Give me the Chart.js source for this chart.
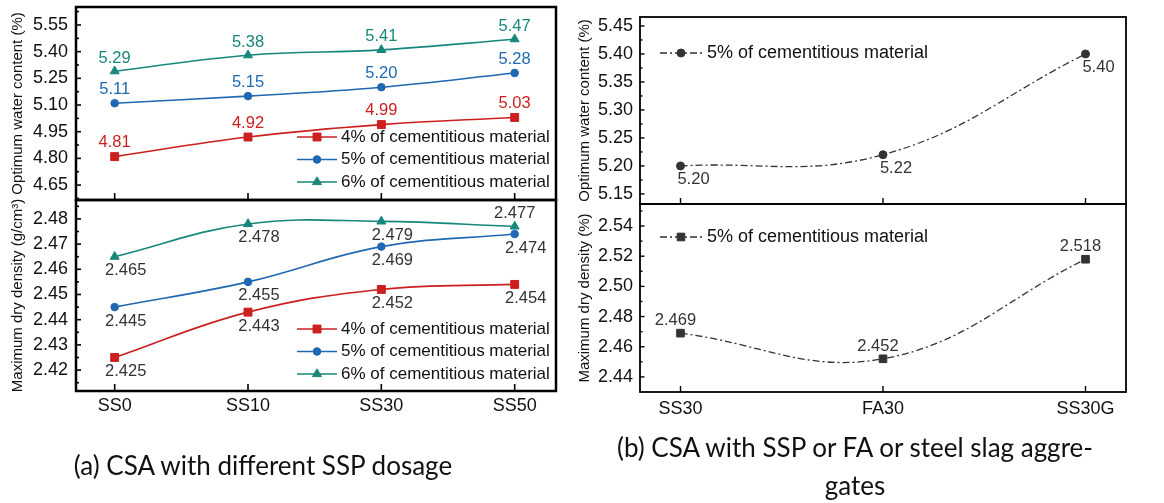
<!DOCTYPE html>
<html>
<head>
<meta charset="utf-8">
<script src="https://cdn.jsdelivr.net/npm/chart.js@4.4.1/dist/chart.umd.min.js"></script>
<style>
  html, body { margin: 0; padding: 0; background: #fff; }
  #wrap { position: relative; width: 1164px; height: 503px; overflow: hidden; background: #fff; }
  canvas.panel { position: absolute; left: 0; top: 0; }
  .cap { position: absolute; font-family: Lato, 'Open Sans', sans-serif; font-size: 26px; color: #111;
         text-align: center; white-space: nowrap; line-height: 38px; }
</style>
</head>
<body>
<div id="wrap">
  <canvas id="tl" class="panel" width="1164" height="503"></canvas>
  <canvas id="bl" class="panel" width="1164" height="503"></canvas>
  <canvas id="tr" class="panel" width="1164" height="503"></canvas>
  <canvas id="br" class="panel" width="1164" height="503"></canvas>
  <div class="cap" style="left:0;width:526px;top:446px;">(a) CSA with different SSP dosage</div>
  <div class="cap" style="left:580px;width:550px;top:428px;">(b) CSA with SSP or FA or steel slag aggre-<br>gates</div>
</div>
<script>
// ---- data ----
const dosageGroups   = ['SS0', 'SS10', 'SS30', 'SS50'];
const waterContent4  = [4.81, 4.92, 4.99, 5.03];
const waterContent5  = [5.11, 5.15, 5.20, 5.28];
const waterContent6  = [5.29, 5.38, 5.41, 5.47];
const dryDensity4    = [2.425, 2.443, 2.452, 2.454];
const dryDensity5    = [2.445, 2.455, 2.469, 2.474];
const dryDensity6    = [2.465, 2.478, 2.479, 2.477];

const binderGroups   = ['SS30', 'FA30', 'SS30G'];
const waterContentB  = [5.20, 5.22, 5.40];
const dryDensityB    = [2.469, 2.452, 2.518];

const waterTicksA    = [4.65, 4.80, 4.95, 5.10, 5.25, 5.40, 5.55];
const densityTicksA  = [2.42, 2.43, 2.44, 2.45, 2.46, 2.47, 2.48];
const waterTicksB    = [5.15, 5.20, 5.25, 5.30, 5.35, 5.40, 5.45];
const densityTicksB  = [2.44, 2.46, 2.48, 2.50, 2.52, 2.54];

const seriesNames    = ['4% of cementitious material', '5% of cementitious material', '6% of cementitious material'];
const seriesNameB    = '5% of cementitious material';

// ---- styling ----
const W = 1164, H = 503;
const FONT = "'Liberation Sans', Arial, Helvetica, sans-serif";
Chart.defaults.font.family = FONT;
Chart.defaults.color = '#111';

const RED = '#cc1f1f', BLUE = '#1f68b2', TEAL = '#17877c', GREY = '#333333';

const toPoints = arr => arr.map((v, i) => ({ x: i, y: v }));

function line(ctx, x1, y1, x2, y2) {
  ctx.beginPath(); ctx.moveTo(x1, y1); ctx.lineTo(x2, y2); ctx.stroke();
}

// frame, inward ticks, value labels and an in-plot legend
const panelDecor = {
  id: 'panelDecor',
  afterDatasetsDraw(chart, args, o) {
    const ctx = chart.ctx;
    ctx.save();
    ctx.font = o.labelSize + 'px ' + FONT;
    ctx.textAlign = 'center';
    ctx.textBaseline = 'middle';
    chart.data.datasets.forEach((ds, i) => {
      const meta = chart.getDatasetMeta(i);
      const lab = ds.valueLabel;
      meta.data.forEach((pt, j) => {
        const off = (lab.at && lab.at[j]) || [lab.dx, lab.dy];
        ctx.fillStyle = lab.color;
        ctx.fillText(ds.data[j].y.toFixed(o.decimals), pt.x + off[0], pt.y + off[1]);
      });
    });
    ctx.restore();
  },
  afterDraw(chart, args, o) {
    const ctx = chart.ctx;
    const ca = chart.chartArea;
    const ys = chart.scales.y, xs = chart.scales.x;
    ctx.save();
    ctx.strokeStyle = '#000';
    ctx.lineCap = 'butt';
    // ticks on the y axis (major + minor, pointing inward)
    ctx.lineWidth = o.tickWidth;
    const tv = ys.ticks.map(t => t.value);
    const step = tv[1] - tv[0];
    tv.forEach(v => {
      const y = ys.getPixelForValue(v);
      line(ctx, ca.left, y, ca.left + o.majorLen, y);
    });
    for (let k = -1; k < tv.length; k++) {
      const v = tv[0] + step * (k + 0.5);
      if (v < ys.min || v > ys.max) continue;
      const y = ys.getPixelForValue(v);
      line(ctx, ca.left, y, ca.left + o.minorLen, y);
    }
    // ticks on the x axis
    xs.ticks.forEach(t => {
      const x = xs.getPixelForValue(t.value);
      line(ctx, x, ca.bottom, x, ca.bottom - o.xTickLen);
    });
    // frame
    ctx.lineWidth = o.frameWidth;
    ctx.strokeRect(ca.left, ca.top, ca.right - ca.left, ca.bottom - ca.top);

    // legend
    const L = o.legend;
    ctx.font = L.size + 'px ' + FONT;
    ctx.textAlign = 'left';
    ctx.textBaseline = 'middle';
    chart.data.datasets.forEach((ds, i) => {
      const y = L.y + i * L.gap;
      ctx.strokeStyle = ds.borderColor;
      ctx.lineWidth = ds.borderWidth;
      ctx.setLineDash(ds.borderDash || []);
      line(ctx, L.x, y, L.x + L.len, y);
      ctx.setLineDash([]);
      ctx.fillStyle = ds.pointBackgroundColor;
      ctx.strokeStyle = ds.pointBorderColor;
      ctx.lineWidth = 1;
      Chart.helpers.drawPoint(ctx, { pointStyle: ds.pointStyle, radius: ds.pointRadius, rotation: 0, borderWidth: 1 }, L.x + L.len / 2, y);
      ctx.fillStyle = L.color;
      ctx.fillText(ds.label, L.x + L.len + L.textGap, y);
    });
    ctx.restore();
  }
};

function series(label, values, color, style, radius, extra) {
  return Object.assign({
    label, data: toPoints(values),
    borderColor: color, borderWidth: 1.6,
    pointStyle: style, pointRadius: radius,
    pointBackgroundColor: color, pointBorderColor: color, pointBorderWidth: 1,
    tension: 0.4, fill: false
  }, extra || {});
}

function panel(id, p) {
  const a = p.area;
  return new Chart(document.getElementById(id), {
    type: 'line',
    data: { datasets: p.datasets },
    options: {
      responsive: false, animation: false, events: [],
      layout: { padding: { left: a.left - p.yWidth, top: a.top, right: W - a.right, bottom: H - a.bottom - p.xHeight } },
      scales: {
        x: {
          type: 'linear', min: p.xMin, max: p.xMax,
          grid: { display: false, drawTicks: false }, border: { display: false },
          ticks: { display: p.showX, font: { size: 18 }, color: '#111', padding: p.xPad,
                   maxRotation: 0, autoSkip: false, callback: v => p.categories[v] ?? '' },
          afterBuildTicks: s => { s.ticks = p.categories.map((c, i) => ({ value: i })); },
          afterFit: s => { s.height = p.xHeight; s.paddingLeft = 0; s.paddingRight = 0; }
        },
        y: {
          type: 'linear', min: p.yMin, max: p.yMax,
          grid: { display: false, drawTicks: false }, border: { display: false },
          ticks: { font: { size: 18 }, color: '#111', padding: p.yPad, callback: v => v.toFixed(p.tickDec) },
          afterBuildTicks: s => { s.ticks = p.yTicks.map(v => ({ value: v })); },
          title: { display: true, text: p.title, color: '#111', font: { size: 15 }, padding: { top: p.titlePad, bottom: 0 } },
          afterFit: s => { s.width = p.yWidth; s.paddingTop = 0; s.paddingBottom = 0; }
        }
      },
      plugins: {
        legend: { display: false }, tooltip: { enabled: false },
        panelDecor: p.decor
      }
    },
    plugins: [panelDecor]
  });
}

const decorA = (legendY) => ({
  frameWidth: 2.5, tickWidth: 1.6, majorLen: 5, minorLen: 3, xTickLen: 7,
  labelSize: 16.5,
  legend: { x: 297, y: legendY, gap: 22.5, len: 40, textGap: 4, size: 17, color: '#111' }
});
const decorB = (legendY, dec) => ({
  frameWidth: 1.8, tickWidth: 1.4, majorLen: 4.5, minorLen: 2.5, xTickLen: 6,
  labelSize: 16.5, decimals: dec,
  legend: { x: 660, y: legendY, gap: 22, len: 42, textGap: 5, size: 18, color: '#111' }
});

// (a) top: optimum water content
panel('tl', {
  area: { left: 76, top: 7, right: 556, bottom: 200 }, yWidth: 76, xHeight: 0,
  xMin: -0.29, xMax: 3.31, categories: dosageGroups, showX: false, xPad: 4,
  yMin: 4.566, yMax: 5.651, yTicks: waterTicksA, tickDec: 2, yPad: 8,
  title: 'Optimum water content (%)', titlePad: 9,
  decor: Object.assign(decorA(137), { decimals: 2 }),
  datasets: [
    series(seriesNames[0], waterContent4, RED, 'rect', 5.6, { valueLabel: { color: RED, dx: 0, dy: -14 } }),
    series(seriesNames[1], waterContent5, BLUE, 'circle', 3.8, { valueLabel: { color: BLUE, dx: 0, dy: -14 } }),
    series(seriesNames[2], waterContent6, TEAL, 'triangle', 5.2, { valueLabel: { color: TEAL, dx: 0, dy: -13 } })
  ]
});

// (a) bottom: maximum dry density
panel('bl', {
  area: { left: 76, top: 200, right: 556, bottom: 391 }, yWidth: 76, xHeight: 34,
  xMin: -0.29, xMax: 3.31, categories: dosageGroups, showX: true, xPad: 4,
  yMin: 2.4117, yMax: 2.4875, yTicks: densityTicksA, tickDec: 2, yPad: 8,
  title: 'Maximum dry density (g/cm³)', titlePad: 9,
  decor: Object.assign(decorA(329), { decimals: 3 }),
  datasets: [
    series(seriesNames[0], dryDensity4, RED, 'rect', 5.6, { valueLabel: { color: GREY, dx: 11, dy: 14 } }),
    series(seriesNames[1], dryDensity5, BLUE, 'circle', 3.8, { valueLabel: { color: GREY, dx: 11, dy: 14 } }),
    series(seriesNames[2], dryDensity6, TEAL, 'triangle', 5.2, { valueLabel: { color: GREY, dx: 11, dy: 14, at: { 3: [0, -13] } } })
  ]
});

// (b) top: optimum water content
panel('tr', {
  area: { left: 640, top: 17, right: 1126, bottom: 204 }, yWidth: 70, xHeight: 0,
  xMin: -0.2, xMax: 2.2, categories: binderGroups, showX: false, xPad: 5,
  yMin: 5.132, yMax: 5.466, yTicks: waterTicksB, tickDec: 2, yPad: 7,
  title: 'Optimum water content (%)', titlePad: 6,
  decor: decorB(53, 2),
  datasets: [
    series(seriesNameB, waterContentB, GREY, 'circle', 4, {
      borderWidth: 1.3, borderDash: [7, 3, 2, 3],
      valueLabel: { color: GREY, dx: 13, dy: 13.5 } })
  ]
});

// (b) bottom: maximum dry density
panel('br', {
  area: { left: 640, top: 204, right: 1126, bottom: 392 }, yWidth: 70, xHeight: 34,
  xMin: -0.2, xMax: 2.2, categories: binderGroups, showX: true, xPad: 6,
  yMin: 2.430, yMax: 2.5546, yTicks: densityTicksB, tickDec: 2, yPad: 7,
  title: 'Maximum dry density (%)', titlePad: 6,
  decor: decorB(237, 3),
  datasets: [
    series(seriesNameB, dryDensityB, GREY, 'rect', 5.4, {
      borderWidth: 1.3, borderDash: [7, 3, 2, 3],
      valueLabel: { color: GREY, dx: -5, dy: -12.5 } })
  ]
});
</script>
</body>
</html>
